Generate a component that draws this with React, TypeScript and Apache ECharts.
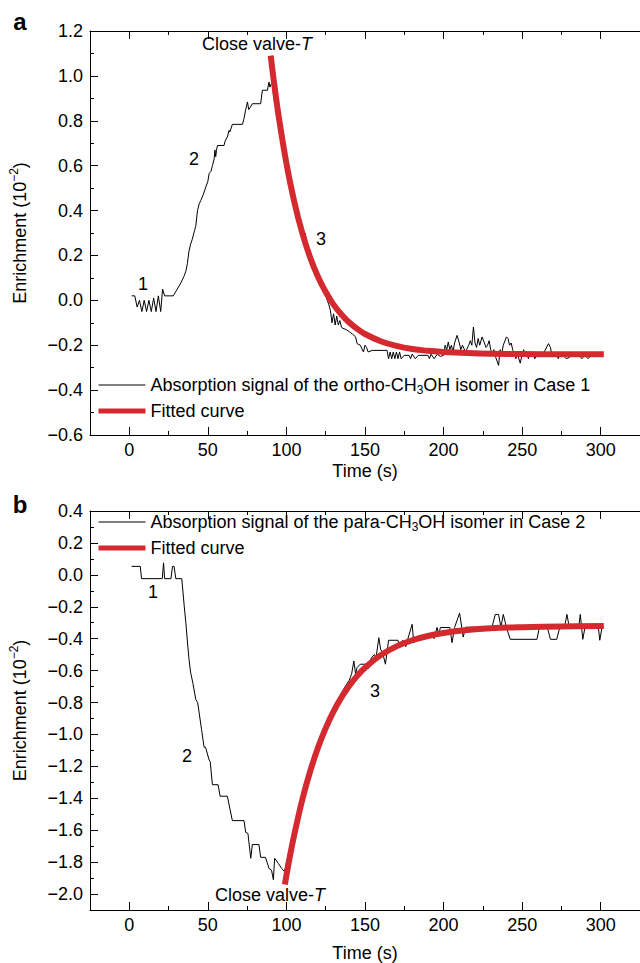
import React, { useEffect, useRef } from 'react';
import * as echarts from 'echarts';

const FONT = '"Liberation Sans", Arial, Helvetica, sans-serif';
const RED = '#d42a2f';

// Tick labels
const xTickLabels = [0, 50, 100, 150, 200, 250, 300];
const yTickLabelsA = [-0.6, -0.4, -0.2, 0.0, 0.2, 0.4, 0.6, 0.8, 1.0, 1.2];
const yTickLabelsB = [-2.0, -1.8, -1.6, -1.4, -1.2, -1.0, -0.8, -0.6, -0.4, -0.2, 0.0, 0.2, 0.4];

// Series names
const nameSignalA = 'Absorption signal of the ortho-CH3OH isomer in Case 1';
const nameSignalB = 'Absorption signal of the para-CH3OH isomer in Case 2';
const nameFit = 'Fitted curve';

// Panel a: absorption signal (time s, enrichment 1e-2)
const signalA: [number, number][] = [
  [1.5, 0.02], [3.5, 0.02], [5, -0.03], [6.5, 0.0], [8, -0.05], [9.5, 0.0], [11, -0.05], [12.5, 0.0],
  [14, -0.05], [15.5, 0.01], [17, -0.05], [18.5, 0.02], [20, -0.05], [21.2, 0.05], [22.5, 0.02], [28, 0.02],
  [30.5, 0.05], [33, 0.08], [35, 0.11], [36, 0.13], [37, 0.165], [38, 0.22], [39, 0.25], [40, 0.27],
  [41.5, 0.31], [42.3, 0.33], [43.4, 0.4], [44.5, 0.43], [45.5, 0.445], [47, 0.47], [48.7, 0.505], [50, 0.53],
  [50.8, 0.565], [52, 0.575], [52.9, 0.6], [54, 0.63], [54.5, 0.67], [55, 0.64], [55.5, 0.668], [56.1, 0.69],
  [60.3, 0.69], [61, 0.71], [62.4, 0.728], [63.5, 0.757], [64, 0.75], [65.6, 0.784], [72, 0.784], [73, 0.81],
  [74, 0.847], [75.2, 0.884], [76, 0.85], [77, 0.86], [78.3, 0.876], [83.6, 0.876], [84.7, 0.936], [87.9, 0.936],
  [88.9, 0.973], [89.5, 0.95], [90, 0.96], [91, 0.97], [92, 0.9], [94, 0.84], [96, 0.76], [98, 0.68],
  [100, 0.61], [102, 0.54], [104, 0.47], [106, 0.42], [108, 0.36], [110, 0.31], [111, 0.28], [112, 0.3],
  [113, 0.24], [114, 0.21], [116, 0.18], [118, 0.13], [120, 0.1], [122, 0.07], [124, 0.04], [126, 0.0],
  [127, -0.02], [128, -0.045], [129, -0.1], [130, -0.06], [131, -0.11], [132, -0.07], [133, -0.11], [134, -0.09],
  [135, -0.12], [136, -0.125], [138, -0.13], [140, -0.14], [142, -0.15], [144, -0.163], [145, -0.193], [147, -0.2],
  [149, -0.23], [150, -0.2], [151, -0.21], [152, -0.23], [154.6, -0.223], [164, -0.223], [165, -0.26], [166, -0.23],
  [167, -0.26], [168, -0.23], [169, -0.26], [170, -0.23], [171, -0.26], [172, -0.23], [173, -0.26], [175, -0.245],
  [178, -0.245], [179, -0.26], [180, -0.24], [182, -0.26], [184, -0.245], [190, -0.245], [191, -0.26], [192, -0.24],
  [194, -0.26], [196, -0.24], [198, -0.25], [200, -0.245], [201, -0.2], [202, -0.22], [203, -0.186], [204, -0.22],
  [205, -0.2], [206, -0.23], [207, -0.19], [208.6, -0.156], [210, -0.19], [211, -0.22], [212, -0.2], [214, -0.23],
  [216, -0.2], [217, -0.18], [218, -0.2], [219, -0.119], [220, -0.19], [221, -0.21], [222, -0.17], [223, -0.2],
  [224.5, -0.163], [226, -0.19], [227, -0.21], [228, -0.2], [229, -0.18], [230, -0.22], [231, -0.24], [232, -0.22],
  [233, -0.25], [235, -0.29], [236, -0.22], [237, -0.24], [238, -0.2], [240, -0.163], [241, -0.17], [242, -0.2],
  [243, -0.19], [244, -0.22], [245, -0.24], [246, -0.26], [247, -0.24], [248.8, -0.28], [250, -0.24], [251, -0.22],
  [252, -0.25], [253, -0.24], [254, -0.26], [255, -0.24], [256, -0.25], [257, -0.23], [258, -0.26], [260, -0.24],
  [262, -0.245], [264, -0.23], [266.8, -0.193], [268, -0.21], [269, -0.245], [272, -0.245], [273, -0.26], [274, -0.24],
  [276, -0.245], [278, -0.26], [280, -0.255], [282, -0.24], [284, -0.25], [286, -0.24], [288, -0.26], [290, -0.245],
  [292, -0.26], [294, -0.245], [296, -0.25], [298, -0.24], [300, -0.245], [301, -0.235],
];

// Panel a: fitted curve
const fitA: [number, number][] = [
  [90, 1.09], [92, 0.976], [95, 0.823], [100, 0.61], [105, 0.439], [110, 0.302], [115, 0.193], [120, 0.106],
  [125, 0.037], [130, -0.019], [135, -0.063], [140, -0.099], [145, -0.127], [150, -0.15], [160, -0.182],
  [170, -0.203], [180, -0.217], [190, -0.225], [200, -0.23], [215, -0.235], [230, -0.238], [250, -0.239],
  [275, -0.24], [302, -0.24],
];

// Panel b: absorption signal
const signalB: [number, number][] = [
  [1.5, 0.053], [7, 0.053], [7.8, -0.024], [21, -0.024], [21.8, 0.075], [22.5, -0.024], [26.5, -0.024], [27.5, 0.053],
  [28.5, 0.053], [29.6, -0.024], [33.4, -0.024], [35, -0.2], [36, -0.3], [37, -0.42], [38, -0.53], [39, -0.61],
  [40.5, -0.68], [42.3, -0.78], [43.5, -0.8], [44.4, -0.86], [46, -0.97], [47.6, -1.08], [48.5, -1.08], [50.8, -1.16],
  [51.5, -1.17], [52.9, -1.315], [56.5, -1.315], [57.8, -1.387], [62.4, -1.387], [65.6, -1.54], [73, -1.54], [74.1, -1.614],
  [75.5, -1.62], [77.3, -1.776], [78.3, -1.69], [82.5, -1.69], [83.6, -1.77], [86.7, -1.77], [88.9, -1.84], [90.5, -1.85],
  [91.7, -1.91], [92.5, -1.776], [95, -1.81], [97, -1.84], [98.8, -1.86], [100, -1.8], [102, -1.72], [104, -1.62],
  [106, -1.55], [108, -1.45], [110, -1.4], [112, -1.32], [114, -1.27], [116, -1.2], [117.5, -1.17], [119, -1.1],
  [121, -1.06], [123, -1.0], [125, -0.96], [127, -0.9], [129, -0.86], [131, -0.82], [133, -0.78], [135, -0.74],
  [137.7, -0.695], [140, -0.66], [141.5, -0.62], [142.9, -0.54], [144, -0.62], [145, -0.58], [147, -0.56], [151, -0.56],
  [152, -0.59], [154, -0.52], [156, -0.5], [157, -0.52], [158.8, -0.394], [160, -0.47], [161, -0.48], [163, -0.56],
  [165, -0.41], [171, -0.41], [172, -0.45], [174, -0.41], [176, -0.45], [177, -0.41], [180, -0.31], [181, -0.425],
  [183, -0.41], [185, -0.41], [188, -0.39], [190, -0.4], [192, -0.37], [194, -0.4], [195.8, -0.33], [197, -0.37],
  [198, -0.33], [204, -0.33], [205.4, -0.425], [207, -0.33], [210.2, -0.24], [212.5, -0.39], [214, -0.328], [230.8, -0.328],
  [232.9, -0.248], [235, -0.248], [236.5, -0.328], [238, -0.248], [240, -0.328], [242.4, -0.404], [259.4, -0.404], [261, -0.328],
  [266, -0.328], [268, -0.404], [272, -0.404], [274, -0.328], [277, -0.328], [278.5, -0.248], [280, -0.328], [286, -0.328],
  [287, -0.248], [288.6, -0.404], [290, -0.328], [298.5, -0.328], [299.4, -0.41], [300.8, -0.33],
];

// Panel b: fitted curve
const fitB: [number, number][] = [
  [99, -1.94], [102, -1.775], [105, -1.628], [110, -1.413], [115, -1.235], [120, -1.085], [125, -0.96], [130, -0.855],
  [135, -0.768], [140, -0.695], [145, -0.633], [150, -0.582], [160, -0.503], [170, -0.448], [180, -0.41], [190, -0.383],
  [200, -0.364], [215, -0.346], [230, -0.335], [250, -0.328], [275, -0.323], [302, -0.321],
];

const fmtY = (v: number) => v.toFixed(1).replace('-', '\u2212');
const black = { color: '#000', width: 1 };

function xAxesFor(grid: number, nameGap: number) {
  const base = { type: 'value', gridIndex: grid, min: -25, max: 325, splitLine: { show: false } };
  return [
    {
      ...base, position: 'bottom', interval: 25,
      axisLine: { show: true, onZero: false, lineStyle: black },
      axisTick: { show: true, inside: true, length: 4, lineStyle: black },
      axisLabel: { show: false },
      name: 'Time (s)', nameLocation: 'middle', nameGap,
      nameTextStyle: { fontSize: 18, color: '#000', fontFamily: FONT },
    },
    {
      ...base, position: 'bottom',
      axisLine: { show: false, onZero: false },
      axisTick: { show: true, inside: true, length: 8, customValues: xTickLabels, lineStyle: black },
      axisLabel: { show: true, customValues: xTickLabels, fontSize: 18, color: '#000', fontFamily: FONT, margin: 6, formatter: (v: number) => String(v) },
    },
    {
      ...base, position: 'top', interval: 25,
      axisLine: { show: true, onZero: false, lineStyle: black },
      axisTick: { show: true, inside: true, length: 4, lineStyle: black },
      axisLabel: { show: false },
    },
    {
      ...base, position: 'top',
      axisLine: { show: false, onZero: false },
      axisTick: { show: true, inside: true, length: 8, customValues: xTickLabels, lineStyle: black },
      axisLabel: { show: false },
    },
  ];
}

function yAxesFor(grid: number, min: number, max: number, majors: number[], nameGap: number) {
  const base = { type: 'value', gridIndex: grid, min, max, position: 'left', splitLine: { show: false } };
  return [
    {
      ...base, interval: 0.1,
      axisLine: { show: true, onZero: false, lineStyle: black },
      axisTick: { show: true, inside: true, length: 4, lineStyle: black },
      axisLabel: { show: false },
      name: 'Enrichment (10{sup|\u22122})', nameLocation: 'middle', nameGap, nameRotate: 90,
      nameTextStyle: {
        fontSize: 18, color: '#000', fontFamily: FONT, lineHeight: 24,
        rich: { sup: { fontSize: 12, lineHeight: 12, verticalAlign: 'top', color: '#000', fontFamily: FONT } },
      },
    },
    {
      ...base,
      axisLine: { show: false, onZero: false },
      axisTick: { show: true, inside: true, length: 8, customValues: majors, lineStyle: black },
      axisLabel: { show: true, customValues: majors, formatter: fmtY, fontSize: 18, color: '#000', fontFamily: FONT, margin: 7 },
    },
  ];
}

const hiddenSymbol = { opacity: 0, color: 'rgba(0,0,0,0)', borderWidth: 0 };

function legendFor(top: number, signalName: string) {
  return {
    orient: 'vertical', left: 91, top, itemWidth: 47, itemHeight: 14, itemGap: 4,
    selectedMode: false,
    data: [
      { name: signalName, lineStyle: { width: 1, color: '#000' }, itemStyle: hiddenSymbol },
      { name: nameFit, lineStyle: { width: 5, color: RED }, itemStyle: hiddenSymbol },
    ],
    formatter: (n: string) => n.replace('CH3OH', 'CH{s|3}OH'),
    textStyle: {
      fontSize: 18, color: '#000', fontFamily: FONT, lineHeight: 22,
      rich: { s: { fontSize: 12, lineHeight: 12, verticalAlign: 'bottom', color: '#000', fontFamily: FONT } },
    },
  };
}

function label(x: number, y: number, text: string, extra: any = {}) {
  return {
    type: 'text', x, y, z: 100,
    style: { text, fontSize: 18, fontFamily: FONT, fill: '#000', align: 'center', verticalAlign: 'middle', ...extra },
  };
}

export default function App() {
  const ref = useRef<HTMLDivElement>(null);
  useEffect(() => {
    if (!ref.current) return;
    const chart = echarts.init(ref.current, null, { renderer: 'svg' });
    const closeRich = { i: { fontStyle: 'italic', fontSize: 18, fontFamily: FONT, fill: '#000' } };
    chart.setOption({
      animation: false,
      backgroundColor: '#fff',
      textStyle: { fontFamily: FONT, color: '#000' },
      grid: [
        { left: 89, top: 31, width: 551, height: 404 },
        { left: 89, top: 511, width: 551, height: 400 },
      ],
      xAxis: [...xAxesFor(0, 27), ...xAxesFor(1, 34)],
      yAxis: [
        ...yAxesFor(0, -0.6, 1.2, yTickLabelsA, 58),
        ...yAxesFor(1, -2.1, 0.4, yTickLabelsB, 58),
      ],
      legend: [legendFor(369, nameSignalA), legendFor(506, nameSignalB)],
      series: [
        {
          name: nameSignalA, type: 'line', xAxisIndex: 0, yAxisIndex: 0, data: signalA,
          showSymbol: false, symbol: 'none', lineStyle: { color: '#000', width: 1 }, itemStyle: { color: '#000' }, z: 2,
        },
        {
          name: nameFit, type: 'line', xAxisIndex: 0, yAxisIndex: 0, data: fitA, smooth: 0.4,
          showSymbol: false, symbol: 'none', lineStyle: { color: RED, width: 6 }, itemStyle: { color: RED }, z: 3,
        },
        {
          name: nameSignalB, type: 'line', xAxisIndex: 4, yAxisIndex: 2, data: signalB,
          showSymbol: false, symbol: 'none', lineStyle: { color: '#000', width: 1 }, itemStyle: { color: '#000' }, z: 2,
        },
        {
          name: nameFit, type: 'line', xAxisIndex: 4, yAxisIndex: 2, data: fitB, smooth: 0.4,
          showSymbol: false, symbol: 'none', lineStyle: { color: RED, width: 6 }, itemStyle: { color: RED }, z: 3,
        },
      ],
      graphic: [
        label(20, 21, 'a', { fontSize: 24, fontWeight: 'bold' }),
        label(20, 504, 'b', { fontSize: 24, fontWeight: 'bold' }),
        label(257, 44, 'Close valve-{i|T}', { rich: closeRich }),
        label(270, 895, 'Close valve-{i|T}', { rich: closeRich }),
        label(143, 284, '1'),
        label(194, 159, '2'),
        label(321, 239, '3'),
        label(153, 592, '1'),
        label(187, 756, '2'),
        label(375, 691, '3'),
      ],
    });
    return () => chart.dispose();
  }, []);
  return <div ref={ref} style={{ position: 'absolute', left: 0, top: 0, width: 640, height: 963 }} />;
}
